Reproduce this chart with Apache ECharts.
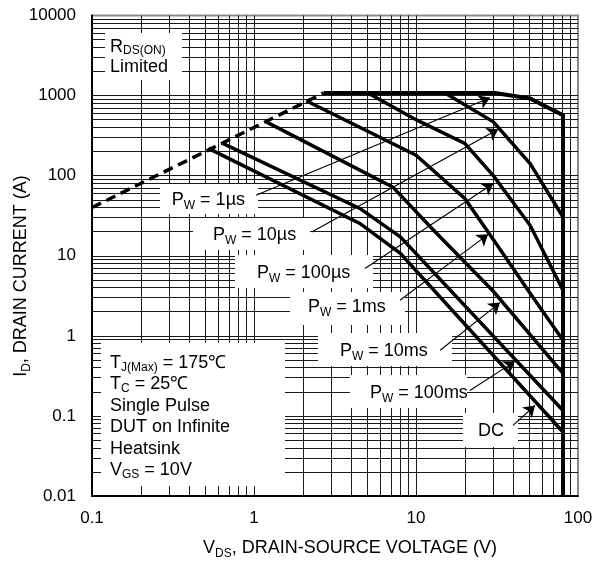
<!DOCTYPE html>
<html>
<head>
<meta charset="utf-8">
<script src="https://cdn.jsdelivr.net/npm/echarts@6/dist/echarts.min.js"></script>
<style>html,body{margin:0;padding:0;background:#fff;}#c{width:608px;height:561px;}</style>
</head>
<body>
<div id="c"></div>
<script>
// ---- data (V_DS in volts, I_D in amps) ----
const rdsV   = [0.1, 2.7];
const rdsI   = [40, 1080];
const us1V   = [2.7, 30.7, 50.6, 80.8, 80.8];
const us1I   = [1080, 1080, 922, 570, 0.01];
const us10V  = [15.1, 30, 50.6, 80.8];
const us10I  = [1080, 470, 142, 30.5];
const us100V = [5.05, 10, 20, 30, 50.6, 80.8];
const us100I = [1080, 500, 253, 100, 24, 3.7];
const ms1V   = [2.1, 10, 20, 30, 50.6, 80.8];
const ms1I   = [861, 180, 52, 16, 3.4, 0.88];
const ms10V  = [1.19, 7.2, 12.8, 30, 80.8];
const ms10I  = [470, 72, 21, 3.6, 0.34];
const ms100V = [0.632, 4.5, 8, 80.8];
const ms100I = [257, 39, 17.2, 0.117];
const dcV    = [0.523, 4.5, 8, 80.8];
const dcI    = [219, 25.3, 10.7, 0.063];

const xTicks = [0.1, 1, 10, 100];
const yTicks = [0.01, 0.1, 1, 10, 100, 1000, 10000];

// arrow annotations: [fromV, fromI, toV, toI]
const arrows = [
  [1.03, 57, 28.6, 939],
  [2.27, 19.8, 32.2, 380],
  [4.84, 6.92, 30, 80],
  [7.96, 2.78, 27.9, 18.5],
  [14.1, 0.66, 33, 2.6],
  [21.5, 0.208, 40.8, 0.48],
  [39.7, 0.076, 54.3, 0.135]
];

const FONT = "'Liberation Sans', Arial, Helvetica, sans-serif";

function pairs(xs, ys){ return xs.map((x,i)=>[x, ys[i]]); }

// grid line values (2..9 per decade)
const xGrid = [], yGrid = [];
[0.1, 1, 10].forEach(d => { for (let k = 1; k <= 9; k++) { if (!(k === 1 && d === 0.1)) xGrid.push(+(k*d).toPrecision(6)); } });
[0.01, 0.1, 1, 10, 100, 1000].forEach(d => { for (let k = 1; k <= 9; k++) { if (!(k === 1 && d === 0.01)) yGrid.push(+(k*d).toPrecision(6)); } });

const gridMarks = xGrid.map(v => ({xAxis: v})).concat(yGrid.map(v => ({yAxis: v})));

const chart = echarts.init(document.getElementById('c'), null, {renderer: 'canvas'});

function curve(name, xs, ys, extra){
  return Object.assign({
    name, type: 'line', data: pairs(xs, ys), showSymbol: false, symbol: 'none',
    z: 10, silent: true,
    lineStyle: {color: '#000', width: 3.5, join: 'miter'}
  }, extra || {});
}

const main = {fontSize: 18, fontFamily: FONT, fill: '#000', lineHeight: 24, verticalAlign: 'middle'};
const sub  = {fontSize: 12, fontFamily: FONT, fill: '#000', lineHeight: 12, verticalAlign: 'bottom'};

function box(x, y, w, h){
  return {type: 'rect', z: 7, shape: {x, y, width: w, height: h}, style: {fill: '#fff'}, silent: true};
}
function label(text, x, y, align, extraRich){
  return {type: 'text', z: 8, x, y, silent: true,
    style: {text, rich: Object.assign({m: main, s: sub}, extraRich || {}),
      align: align || 'left', verticalAlign: 'middle', textAlign: align || 'left', textVerticalAlign: 'middle'}};
}

const mainB = Object.assign({}, main, {lineHeight: 21.5});
const subB  = Object.assign({}, sub);

const option = {
  animation: false,
  backgroundColor: '#fff',
  grid: {left: 92, right: 30, top: 15.5, bottom: 65, show: true, borderColor: '#8c8c8c', borderWidth: 2, backgroundColor: 'transparent'},
  xAxis: {
    type: 'log', logBase: 10, min: 0.1, max: 100,
    axisLine: {show: true, onZero: false, lineStyle: {color: '#000', width: 2}},
    axisTick: {show: false}, splitLine: {show: false}, minorTick: {show: false},
    axisLabel: {fontSize: 17, fontFamily: FONT, color: '#000', margin: 14,
      formatter: v => String(parseFloat(Number(v).toPrecision(6)))}
  },
  yAxis: {
    type: 'log', logBase: 10, min: 0.01, max: 10000,
    axisLine: {show: true, onZero: false, lineStyle: {color: '#000', width: 2}},
    axisTick: {show: false}, splitLine: {show: false}, minorTick: {show: false},
    axisLabel: {fontSize: 17, fontFamily: FONT, color: '#000', margin: 16,
      formatter: v => String(parseFloat(Number(v).toPrecision(6)))}
  },
  graphic: {elements: [
    box(105, 33, 77, 47),
    {type: 'text', z: 8, x: 110, y: 37, silent: true,
      style: {text: '{m|R}{s|DS(ON)}\n{m|Limited}', rich: {m: Object.assign({}, main, {lineHeight: 20}), s: sub},
        align: 'left', verticalAlign: 'top', textAlign: 'left', textVerticalAlign: 'top'}},
    box(160, 184, 98, 30),   label('{m|P}{s|W}{m| = 1µs}', 245, 200, 'right'),
    box(193, 218, 117, 32),  label('{m|P}{s|W}{m| = 10µs}', 213, 235, 'left'),
    box(235, 255, 138, 33),  label('{m|P}{s|W}{m| = 100µs}', 257, 273, 'left'),
    box(290, 292, 115, 33),  label('{m|P}{s|W}{m| = 1ms}', 308, 307, 'left'),
    box(318, 333, 134, 33),  label('{m|P}{s|W}{m| = 10ms}', 340, 351, 'left'),
    box(350, 375, 117, 33),  label('{m|P}{s|W}{m| = 100ms}', 370, 393, 'left'),
    box(463, 413, 55, 34),   label('{m|DC}', 478, 431, 'left'),
    box(101, 343, 184, 143),
    {type: 'text', z: 8, x: 110, y: 352, silent: true,
      style: {text: '{m|T}{s|J(Max)}{m| = 175℃}\n{m|T}{s|C}{m| = 25℃}\n{m|Single Pulse}\n{m|DUT on Infinite}\n{m|Heatsink}\n{m|V}{s|GS}{m| = 10V}',
        rich: {m: mainB, s: subB}, align: 'left', verticalAlign: 'top', textAlign: 'left', textVerticalAlign: 'top'}},
    // axis titles
    label('{m|V}{s|DS}{m|, DRAIN-SOURCE VOLTAGE (V)}', 350, 548, 'center'),
    Object.assign(label('{m|I}{s|D}{m|, DRAIN CURRENT (A)}', 21, 276, 'center'), {rotation: Math.PI/2})
  ]},
  series: [
    {name: 'grid', type: 'line', data: [[0.1, 0.01]], showSymbol: false, symbol: 'none', z: 1, silent: true,
      lineStyle: {width: 0},
      markLine: {z: 1, silent: true, symbol: ['none', 'none'], label: {show: false}, animation: false,
        lineStyle: {color: '#1a1a1a', width: 1, type: 'solid'}, emphasis: {disabled: true},
        data: gridMarks}},
    curve('RDS(on) limit', rdsV, rdsI, {lineStyle: {color: '#000', width: 3.5, type: [10, 6]}}),
    curve('1us', us1V, us1I, {lineStyle: {color: '#000', width: 4, join: 'miter'}}),
    curve('10us', us10V, us10I),
    curve('100us', us100V, us100I),
    curve('1ms', ms1V, ms1I),
    curve('10ms', ms10V, ms10I),
    curve('100ms', ms100V, ms100I),
    curve('DC', dcV, dcI),
    {name: 'arrows', type: 'line', data: [[0.1, 0.01]], showSymbol: false, symbol: 'none', z: 12, silent: true,
      lineStyle: {width: 0},
      markLine: {z: 12, silent: true, symbol: ['none', 'arrow'], symbolSize: 11, label: {show: false}, animation: false,
        lineStyle: {color: '#000', width: 1.1, type: 'solid'}, emphasis: {disabled: true},
        itemStyle: {color: '#000'},
        data: arrows.map(a => [{coord: [a[0], a[1]]}, {coord: [a[2], a[3]]}])}}
  ]
};
chart.setOption(option);
</script>
</body>
</html>
